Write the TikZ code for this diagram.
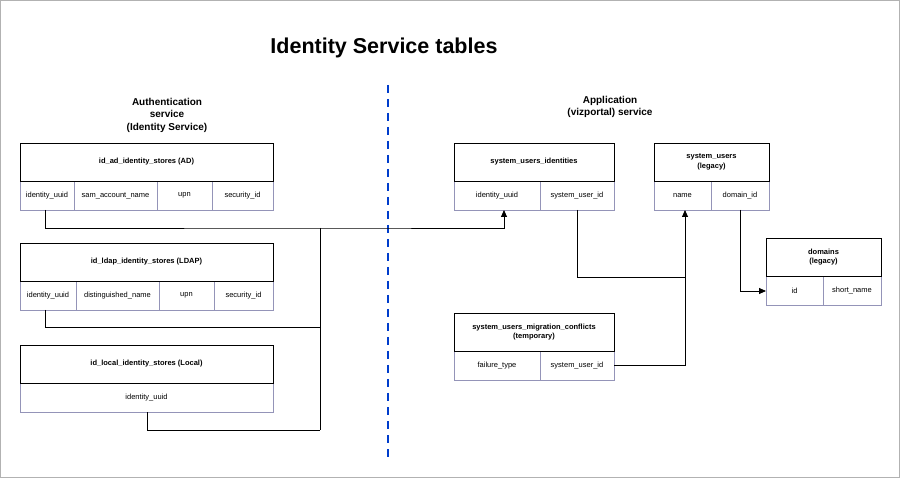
\documentclass[tikz,border=0pt]{standalone}
\usepackage{fontspec}
\setmainfont{Liberation Sans}
\usetikzlibrary{arrows.meta}
\begin{document}
\begin{tikzpicture}[x=1pt,y=-1pt,
 hdr/.style={draw=black,line width=0.8pt,fill=white},
 fld/.style={draw=gray!80!blue!70,line width=0.6pt},
 ht/.style={font=\bfseries\fontsize{7.5}{9.5}\selectfont,align=center},
 ft/.style={font=\fontsize{7.5}{9}\selectfont},
 con/.style={line width=0.8pt},
 arr/.style={con,-{Triangle[length=7pt,width=6pt]}}]
\draw[gray!60,line width=1pt] (0.5,0.5) rectangle (899.5,477.5);
\node[font=\bfseries\fontsize{21.5}{26}\selectfont] (title) at (384,48) {Identity Service tables};
\node[font=\bfseries\fontsize{10}{12.5}\selectfont,align=center] (auth) at (167,115) {Authentication\\service\\(Identity Service)};
\node[font=\bfseries\fontsize{10}{12.5}\selectfont,align=center] (app) at (610,107) {Application\\(vizportal) service};
\draw[blue!70!cyan!80!black,line width=1.2pt,dash pattern=on 8pt off 6pt] (388,85) -- (388,462);
% AD
\draw[fld] (20,181) rectangle (273,210);
\draw[fld] (74,181)--(74,210) (157,181)--(157,210) (212,181)--(212,210);
\draw[hdr] (20,143) rectangle (273,181);
\node[ht] (adh) at (146.5,162) {id\_ad\_identity\_stores (AD)};
\node[ft] (ad1) at (47,195.5) {identity\_uuid};
\node[ft] (ad2) at (115.5,195.5) {sam\_account\_name};
\node[ft] (ad3) at (184.5,195.5) {upn};
\node[ft] (ad4) at (242.5,195.5) {security\_id};
% LDAP
\draw[fld] (20,281) rectangle (273,310);
\draw[fld] (76,281)--(76,310) (159,281)--(159,310) (214,281)--(214,310);
\draw[hdr] (20,243) rectangle (273,281);
\node[ht] (ldh) at (146.5,262) {id\_ldap\_identity\_stores (LDAP)};
\node[ft] (ld1) at (48,295.5) {identity\_uuid};
\node[ft] (ld2) at (117.5,295.5) {distinguished\_name};
\node[ft] (ld3) at (186.5,295.5) {upn};
\node[ft] (ld4) at (243.5,295.5) {security\_id};
% Local
\draw[fld] (20,383) rectangle (273,412);
\draw[hdr] (20,345) rectangle (273,383);
\node[ht] (loh) at (146.5,364) {id\_local\_identity\_stores (Local)};
\node[ft] (lo1) at (146.5,397.5) {identity\_uuid};
% system_users_identities
\draw[fld] (454,181) rectangle (614,210);
\draw[fld] (540,181)--(540,210);
\draw[hdr] (454,143) rectangle (614,181);
\node[ht] (suih) at (534,162) {system\_users\_identities};
\node[ft] (sui1) at (497,195.5) {identity\_uuid};
\node[ft] (sui2) at (577,195.5) {system\_user\_id};
% system_users
\draw[fld] (654,181) rectangle (769,210);
\draw[fld] (711,181)--(711,210);
\draw[hdr] (654,143) rectangle (769,181);
\node[ht] (suh) at (711.5,162) {system\_users\\(legacy)};
\node[ft] (su1) at (682.5,195.5) {name};
\node[ft] (su2) at (740,195.5) {domain\_id};
% domains
\draw[fld] (766,276) rectangle (881,305);
\draw[fld] (823,276)--(823,305);
\draw[hdr] (766,238) rectangle (881,276);
\node[ht] (dh) at (823.5,257) {domains\\(legacy)};
\node[ft] (d1) at (794.5,290.5) {id};
\node[ft] (d2) at (852,290.5) {short\_name};
% migration
\draw[fld] (454,351) rectangle (614,380);
\draw[fld] (540,351)--(540,380);
\draw[hdr] (454,313) rectangle (614,351);
\node[ht] (mh) at (534,332) {system\_users\_migration\_conflicts\\(temporary)};
\node[ft] (m1) at (497,365.5) {failure\_type};
\node[ft] (m2) at (577,365.5) {system\_user\_id};
% connectors
\coordinate (j1) at (320,228);
\coordinate (j2) at (320,430);
\draw[arr] (45,210) |- (j1) -| (504,210);
\draw[con] (j1) -- (j2);
\draw[con] (45,310) |- (320,327);
\draw[con] (147,412) |- (j2);
\draw[con] (577,210) |- (685,277);
\draw[arr] (614,365.5) -| (685,210);
\draw[arr] (740,210) |- (766,291);
\end{tikzpicture}
\end{document}
